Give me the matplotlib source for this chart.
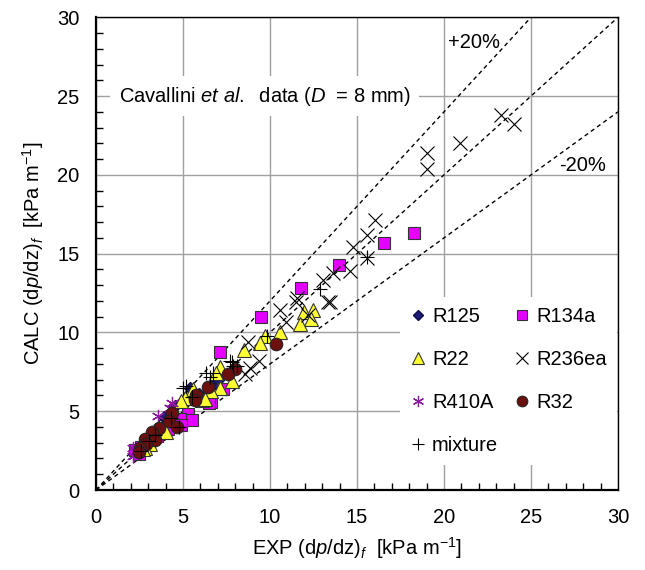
import numpy as np
import matplotlib
matplotlib.use("Agg")
import matplotlib.pyplot as plt

plt.rcParams['font.family'] = ['Liberation Sans', 'DejaVu Sans']
plt.rcParams['mathtext.fontset'] = 'custom'
plt.rcParams['mathtext.rm'] = 'Liberation Sans'
plt.rcParams['mathtext.it'] = 'Liberation Sans:italic'
plt.rcParams['mathtext.bf'] = 'Liberation Sans:bold'

# EXP, CALC pairs (kPa/m)
r125_exp = [6.85, 7.0, 5.4, 5.9, 4.55, 3.9, 4.1, 3.3, 2.9, 2.6]
r125_calc = [6.8, 7.0, 6.45, 6.1, 5.3, 4.65, 4.3, 3.6, 3.0, 2.6]

r134a_exp = [18.3, 16.55, 13.95, 11.8, 9.5, 7.15, 7.3, 6.6, 6.5, 5.3, 5.5, 4.85, 4.9,
             4.15, 3.5, 3.0, 2.6, 2.45, 2.25]
r134a_calc = [16.3, 15.7, 14.3, 12.85, 11.0, 8.75, 6.4, 5.6, 5.5, 4.85, 4.45, 4.5, 4.15,
              3.85, 3.4, 2.9, 2.7, 2.3, 2.55]

r22_exp = [11.95, 12.45, 12.35, 11.7, 10.6, 9.7, 9.4, 8.5, 7.1, 6.9, 7.8, 7.15, 6.6,
           5.6, 5.1, 4.9, 6.1, 6.25, 4.0, 3.1, 2.8, 2.7]
r22_calc = [11.3, 11.4, 10.85, 10.55, 10.0, 9.75, 9.35, 8.9, 7.8, 7.45, 6.9, 6.45, 6.3,
            6.4, 5.85, 5.65, 5.7, 5.75, 3.7, 2.9, 2.65, 2.6]

r236ea_exp = [23.3, 24.0, 20.9, 19.0, 19.05, 16.05, 15.6, 14.75, 15.6, 14.6, 13.6, 13.05,
              13.45, 13.35, 11.55, 11.5, 12.2, 10.55, 10.9, 8.75, 9.35, 8.85, 8.55]
r236ea_calc = [23.8, 23.25, 22.0, 21.4, 20.4, 17.15, 16.2, 15.45, 14.7, 13.9, 13.8, 13.3,
               11.9, 11.95, 12.2, 11.9, 11.1, 11.4, 10.65, 9.4, 8.2, 7.75, 7.35]

r410a_exp = [4.35, 4.25, 3.55, 3.0, 2.4, 2.3, 2.15, 2.15]
r410a_calc = [5.5, 5.2, 4.7, 3.3, 2.55, 2.5, 2.65, 2.15]

r32_exp = [10.35, 8.0, 7.6, 6.45, 5.75, 5.7, 4.35, 4.2, 3.6, 4.65, 3.2, 2.8, 3.4, 2.9,
           2.5, 2.45]
r32_calc = [9.25, 7.65, 7.35, 6.55, 6.05, 5.7, 4.9, 4.35, 3.95, 4.0, 3.65, 3.25, 3.15,
            2.9, 2.65, 2.4]

mix_exp = [15.6, 12.85, 9.8, 7.7, 7.9, 7.8, 8.1, 6.75, 6.35, 6.55, 5.0, 5.2, 5.5, 4.75,
           4.3, 3.4, 3.05, 2.6]
mix_calc = [14.8, 12.75, 9.75, 8.2, 7.9, 8.1, 7.9, 7.45, 7.45, 7.2, 6.45, 6.6, 5.9, 4.0,
            4.6, 3.5, 3.1, 2.5]

fig = plt.figure(figsize=(6.45, 5.7), dpi=100)
ax = fig.add_axes([96/645, 1-490/570, 522/645, 472.7/570])

# parity and +-20% lines
ax.plot([0, 25], [0, 30], 'k--', lw=1, dashes=(3, 2.5), zorder=2)
ax.plot([0, 30], [0, 30], 'k--', lw=1, dashes=(3, 2.5), zorder=2)
ax.plot([0, 30], [0, 24], 'k--', lw=1, dashes=(3, 2.5), zorder=2)

h125, = ax.plot(r125_exp, r125_calc, 'D', ms=6, mfc='#1c1c78', mec='#10104a', ls='none', label='R125', zorder=3)
h134, = ax.plot(r134a_exp, r134a_calc, 's', ms=8.5, mfc='#e600ff', mec='#333333', mew=0.8, ls='none', label='R134a', zorder=3)
h22, = ax.plot(r22_exp, r22_calc, '^', ms=9.5, mfc='#ffff33', mec='#333333', mew=0.8, ls='none', label='R22', zorder=3)
h236, = ax.plot(r236ea_exp, r236ea_calc, 'x', ms=9.5, mec='black', mew=0.8, ls='none', label='R236ea', zorder=3)
h410, = ax.plot(r410a_exp, r410a_calc, marker=(6, 2, 0), ms=9.5, mec='#8a1aa0', mew=0.9, ls='none', label='R410A', zorder=3)
h32, = ax.plot(r32_exp, r32_calc, 'o', ms=9, mfc='#6b0f0f', mec='#222222', mew=0.8, ls='none', label='R32', zorder=3)
hmix, = ax.plot(mix_exp, mix_calc, '+', ms=10, mec='black', mew=0.8, ls='none', label='mixture', zorder=3)

ax.set_xlim(0, 30)
ax.set_ylim(0, 30)
ax.set_xticks(np.arange(0, 31, 5))
ax.set_yticks(np.arange(0, 31, 5))
ax.set_xticks(np.arange(0, 31, 1), minor=True)
ax.set_yticks(np.arange(0, 31, 1), minor=True)
ax.tick_params(which='both', direction='in', labelsize=14.5)
ax.tick_params(which='major', length=0, color='#999999')
ax.tick_params(which='minor', length=5, width=1)
ax.tick_params(axis='x', which='major', pad=13)
ax.tick_params(axis='y', which='major', pad=12)
ax.grid(True, which='major', color='#a0a0a0', lw=1)
ax.set_axisbelow(True)
for s in ['left', 'bottom']:
    ax.spines[s].set_linewidth(1.6)
for s in ['top', 'right']:
    ax.spines[s].set_linewidth(1.0)

ax.set_xlabel('EXP (d$p$/dz)$_f$  [kPa m$^{\\mathrm{-1}}$]', fontsize=14.5, labelpad=6)
ax.set_ylabel('CALC (d$p$/dz)$_f$  [kPa m$^{\\mathrm{-1}}$]', fontsize=14.5, labelpad=8)

ax.text(1.3, 25, 'Cavallini $et$ $al.$  data ($D$  = 8 mm)', fontsize=14.5, va='center', ha='left',
        bbox=dict(facecolor='white', edgecolor='none', pad=6), zorder=4)
ax.text(20.25, 28.4, '+20%', fontsize=14.5, va='center', ha='left')
ax.text(26.6, 20.6, '-20%', fontsize=14.5, va='center', ha='left')

leg = ax.legend([h125, h22, h410, hmix, h134, h236, h32],
                ['R125', 'R22', 'R410A', 'mixture', 'R134a', 'R236ea', 'R32'],
                ncol=2, loc='upper left', bbox_to_anchor=(0.563, 0.43),
                fontsize=14.5, frameon=True, facecolor='white', edgecolor='none', framealpha=1,
                fancybox=False, handlelength=0.8, handletextpad=0.3, columnspacing=0.8,
                labelspacing=1.2, borderpad=0.5, markerscale=0.85)
leg.set_zorder(5)

fig.savefig('out.png', dpi=100)
